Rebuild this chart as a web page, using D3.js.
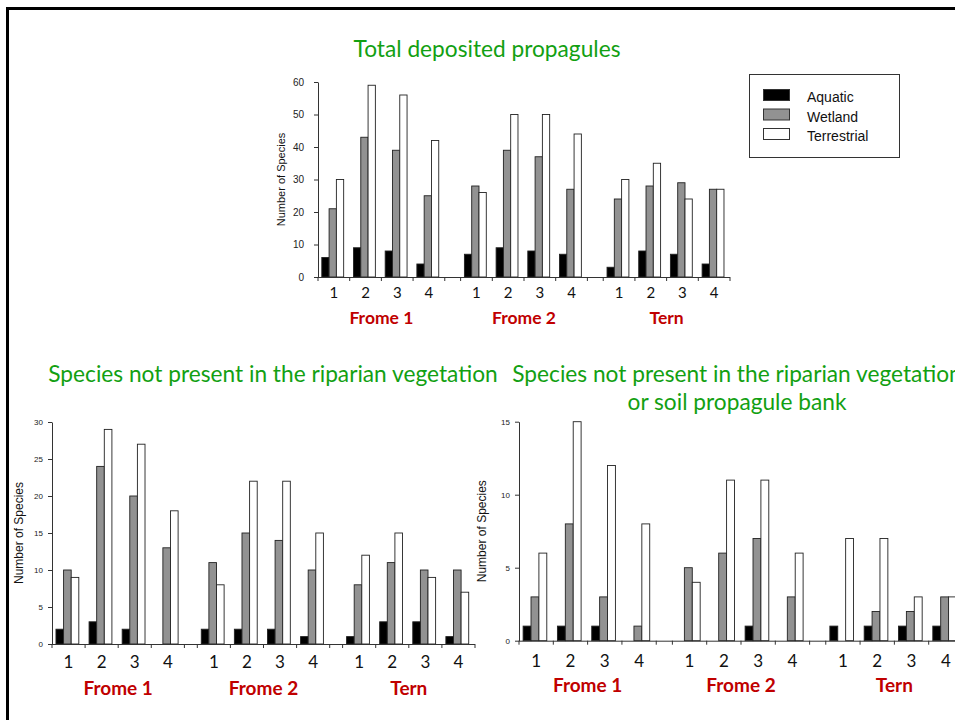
<!DOCTYPE html>
<html>
<head>
  <meta charset="utf-8">
  <title>Deposited propagules</title>
  <script src="https://d3js.org/d3.v7.min.js"></script>
  <style>
    body { margin: 0; background: #fff; }
    .title { font-family: Lato, "Open Sans", sans-serif; fill: #12a012; }
    .site { font-family: Lato, "Open Sans", sans-serif; fill: #111; }
    .river { font-family: Lato, "Open Sans", sans-serif; font-weight: bold; fill: #c00000; }
    .ylab, .legend text { font-family: "Liberation Sans", Arial, sans-serif; fill: #111; }
  </style>
</head>
<body>
<script>
// categories
var groups = ["Frome 1", "Frome 2", "Tern"];
var sites = ["1", "2", "3", "4"];
var series = ["Aquatic", "Wetland", "Terrestrial"];

// total deposited propagules (Frome 1 sites 1-4, Frome 2 sites 1-4, Tern sites 1-4)
var totalAquatic     = [6, 9, 8, 4,   7, 9, 8, 7,   3, 8, 7, 4];
var totalWetland     = [21, 43, 39, 25,   28, 39, 37, 27,   24, 28, 29, 27];
var totalTerrestrial = [30, 59, 56, 42,   26, 50, 50, 44,   30, 35, 24, 27];

// species not present in the riparian vegetation
var ripAquatic     = [2, 3, 2, 0,   2, 2, 2, 1,   1, 3, 3, 1];
var ripWetland     = [10, 24, 20, 13,   11, 15, 14, 10,   8, 11, 10, 10];
var ripTerrestrial = [9, 29, 27, 18,   8, 22, 22, 15,   12, 15, 9, 7];

// species not present in the riparian vegetation or soil propagule bank
var bankAquatic     = [1, 1, 1, 0,   0, 0, 1, 0,   1, 1, 1, 1];
var bankWetland     = [3, 8, 3, 1,   5, 6, 7, 3,   0, 2, 2, 3];
var bankTerrestrial = [6, 15, 12, 8,   4, 11, 11, 6,   7, 7, 3, 3];

// tick values
var totalTicks = [0, 10, 20, 30, 40, 50, 60];
var ripTicks = [0, 5, 10, 15, 20, 25, 30];
var bankTicks = [0, 5, 10, 15];

var fills = {Aquatic: "#000", Wetland: "#929292", Terrestrial: "#fff"};

var svg = d3.select("body").append("svg")
    .attr("width", 955)
    .attr("height", 720);

// slide frame
svg.append("path")
    .attr("d", "M7.5,720V8.5H955")
    .attr("fill", "none")
    .attr("stroke", "#000")
    .attr("stroke-width", 3);

function drawPanel(p) {
  var w = p.right - p.left, h = p.bottom - p.top;
  var g = svg.append("g").attr("transform", "translate(" + p.left + "," + p.top + ")");

  var y = d3.scaleLinear().domain([0, p.max]).range([h, 0]);
  var xGroup = d3.scaleBand().domain(groups).range([0, w])
    .paddingInner(p.gap / (4 + p.gap)).paddingOuter(0);
  var xSite = d3.scaleBand().domain(sites).range([0, xGroup.bandwidth()]);
  var bw = xSite.bandwidth();
  var xSer = d3.scaleBand().domain(series).range([0.12 * bw, 0.81 * bw]);

  var rows = [];
  groups.forEach(function(gr, gi) {
    sites.forEach(function(s, si) {
      series.forEach(function(se) {
        rows.push({group: gr, site: s, series: se, value: p.values[se][gi * 4 + si]});
      });
    });
  });

  // bars
  g.selectAll("rect.bar")
    .data(rows.filter(function(d) { return d.value > 0; }))
    .enter().append("rect")
      .attr("class", "bar")
      .attr("x", function(d) { return xGroup(d.group) + xSite(d.site) + xSer(d.series); })
      .attr("y", function(d) { return y(d.value); })
      .attr("width", xSer.bandwidth())
      .attr("height", function(d) { return h - y(d.value); })
      .attr("fill", function(d) { return fills[d.series]; })
      .attr("stroke", "#222")
      .attr("stroke-width", 0.9);

  // y axis
  var ya = g.append("g")
    .call(d3.axisLeft(y).tickValues(p.ticks).tickSize(4).tickSizeOuter(0).tickPadding(p.tickPad));
  ya.select(".domain").attr("stroke", "#333");
  ya.selectAll(".tick line").attr("stroke", "#333");
  ya.selectAll("text")
    .attr("font-family", "'Liberation Sans', Arial, sans-serif")
    .attr("font-size", p.tickFont)
    .attr("fill", "#222");

  // x axis line with ticks at site boundaries
  g.append("line").attr("x1", 0).attr("x2", w).attr("y1", h + 0.5).attr("y2", h + 0.5)
    .attr("stroke", "#333");
  var bounds = [];
  groups.forEach(function(gr) {
    sites.forEach(function(s) { bounds.push(xGroup(gr) + xSite(s)); });
    bounds.push(xGroup(gr) + xGroup.bandwidth());
  });
  g.selectAll("line.xt").data(bounds).enter().append("line")
    .attr("class", "xt")
    .attr("x1", function(d) { return d; }).attr("x2", function(d) { return d; })
    .attr("y1", h).attr("y2", h + 4)
    .attr("stroke", "#333");

  // site numbers
  g.selectAll("text.site").data(rows.filter(function(d) { return d.series === "Wetland"; }))
    .enter().append("text")
      .attr("class", "site")
      .attr("x", function(d) { return xGroup(d.group) + xSite(d.site) + bw / 2; })
      .attr("y", h + p.siteDy)
      .attr("text-anchor", "middle")
      .attr("font-size", p.siteFont)
      .text(function(d) { return d.site; });

  // river names
  g.selectAll("text.river").data(groups).enter().append("text")
    .attr("class", "river")
    .attr("x", function(d) { return xGroup(d) + xGroup.bandwidth() / 2; })
    .attr("y", h + p.riverDy)
    .attr("text-anchor", "middle")
    .attr("font-size", p.riverFont)
    .text(function(d) { return d; });

  // y label
  g.append("text")
    .attr("class", "ylab")
    .attr("transform", "translate(" + p.labelX + "," + (h / 2) + ") rotate(-90)")
    .attr("text-anchor", "middle")
    .attr("dy", "0.35em")
    .attr("font-size", p.labelFont)
    .text("Number of Species");
}

drawPanel({
  left: 318, right: 730, top: 82, bottom: 277, max: 60, ticks: totalTicks, gap: 0.5,
  values: {Aquatic: totalAquatic, Wetland: totalWetland, Terrestrial: totalTerrestrial},
  tickPad: 10, tickFont: 10, siteDy: 21, siteFont: 15, riverDy: 47, riverFont: 17.5,
  labelX: -37, labelFont: 11
});

drawPanel({
  left: 52, right: 475, top: 422, bottom: 644, max: 30, ticks: ripTicks, gap: 0.39,
  values: {Aquatic: ripAquatic, Wetland: ripWetland, Terrestrial: ripTerrestrial},
  tickPad: 5, tickFont: 8, siteDy: 24, siteFont: 17, riverDy: 51, riverFont: 19,
  labelX: -33, labelFont: 12
});

drawPanel({
  left: 519, right: 963, top: 421.7, bottom: 640.7, max: 15, ticks: bankTicks, gap: 0.47,
  values: {Aquatic: bankAquatic, Wetland: bankWetland, Terrestrial: bankTerrestrial},
  tickPad: 5, tickFont: 8, siteDy: 26, siteFont: 17, riverDy: 51, riverFont: 19,
  labelX: -37, labelFont: 12
});

// titles
svg.append("text").attr("class", "title")
  .attr("x", 487).attr("y", 57).attr("text-anchor", "middle").attr("font-size", 22.7)
  .text("Total deposited propagules");
svg.append("text").attr("class", "title")
  .attr("x", 273).attr("y", 382).attr("text-anchor", "middle").attr("font-size", 22.7)
  .text("Species not present in the riparian vegetation");
svg.append("text").attr("class", "title")
  .attr("x", 737).attr("y", 382).attr("text-anchor", "middle").attr("font-size", 22.7)
  .text("Species not present in the riparian vegetation");
svg.append("text").attr("class", "title")
  .attr("x", 737).attr("y", 410).attr("text-anchor", "middle").attr("font-size", 22.7)
  .text("or soil propagule bank");

// legend
var legend = svg.append("g").attr("class", "legend");
legend.append("rect")
  .attr("x", 749.5).attr("y", 74.5).attr("width", 150).attr("height", 83)
  .attr("fill", "#fff").attr("stroke", "#333");
var ly = d3.scalePoint().domain(series).range([95, 134]);
legend.selectAll("rect.sw").data(series).enter().append("rect")
  .attr("class", "sw")
  .attr("x", 763.5).attr("y", function(d) { return ly(d) - 5.5; })
  .attr("width", 26).attr("height", 11)
  .attr("fill", function(d) { return fills[d]; })
  .attr("stroke", "#333");
legend.selectAll("text").data(series).enter().append("text")
  .attr("x", 807).attr("y", function(d) { return ly(d) + 7; })
  .attr("font-size", 14)
  .text(function(d) { return d; });
</script>
</body>
</html>
